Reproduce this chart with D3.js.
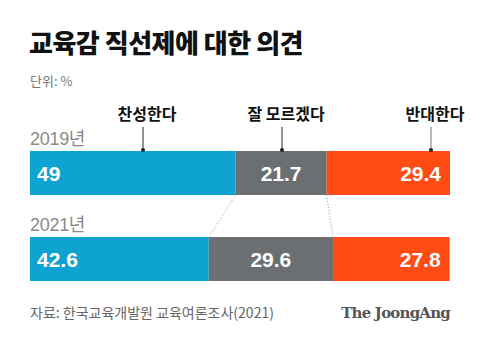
<!DOCTYPE html>
<html><head><meta charset="utf-8">
<script src="https://cdn.jsdelivr.net/npm/d3@7"></script>
<style>body{margin:0;background:#fff}svg{display:block}</style>
</head><body>
<script>
const years = ["2019년", "2021년"];
const categories = ["찬성한다", "잘 모르겠다", "반대한다"];
const values2019 = [49, 21.7, 29.4];
const values2021 = [42.6, 29.6, 27.8];
const colors = ["#0fa3d1", "#6b6f72", "#ff4b14"];
const title = "교육감 직선제에 대한 의견";
const unit = "단위: %";
const source = "자료: 한국교육개발원 교육여론조사(2021)";
const brand = "The JoongAng";

const W = 480, H = 340;
const font = "'Noto Sans CJK KR','Noto Sans',sans-serif";
const svg = d3.select("body").append("svg").attr("width", W).attr("height", H);
const series = [values2019, values2021];

const x = d3.scaleLinear().domain([0, 100.1]).range([30, 450]);
const y = d3.scalePoint().domain(years).range([151, 237]);
const barH = 44;

svg.append("text").attr("x", 29).attr("y", 53).text(title)
  .attr("font-family", font).attr("font-weight", 900).attr("font-size", 26).attr("fill", "#111").attr("letter-spacing", -0.5);
svg.append("text").attr("x", 30).attr("y", 86).text(unit)
  .attr("font-family", font).attr("font-size", 13).attr("fill", "#777");

const stacked = series.map((vals, i) => {
  let c = 0;
  return vals.map((v, j) => { const s = c; c += v; return {year: years[i], cat: j, v, x0: s, x1: c}; });
});

const g0 = stacked[0][1], g1 = stacked[1][1];
[[g0.x0, g1.x0], [g0.x1, g1.x1]].forEach(([a, b]) => {
  svg.append("line").attr("x1", x(a)).attr("y1", y(years[0]) + barH)
    .attr("x2", x(b)).attr("y2", y(years[1]))
    .attr("stroke", "#999").attr("stroke-width", 1).attr("stroke-dasharray", "1,2");
});

stacked.forEach(row => {
  row.forEach(d => {
    svg.append("rect").attr("x", x(d.x0)).attr("y", y(d.year))
      .attr("width", x(d.x1) - x(d.x0)).attr("height", barH).attr("fill", colors[d.cat]);
    let tx, anchor;
    if (d.cat === 0) { tx = x(d.x0) + 7; anchor = "start"; }
    else if (d.cat === 1) { tx = (x(d.x0) + x(d.x1)) / 2; anchor = "middle"; }
    else { tx = x(d.x1) - 9; anchor = "end"; }
    svg.append("text").attr("x", tx).attr("y", y(d.year) + 30).text(d.v)
      .attr("text-anchor", anchor).attr("font-family", "'Liberation Sans',Arial,sans-serif")
      .attr("font-weight", "bold").attr("font-size", 21).attr("fill", "#fff");
  });
  svg.append("text").attr("x", 30).attr("y", y(row[0].year) - 6).text(row[0].year)
    .attr("font-family", "'Liberation Sans','Noto Sans CJK KR',sans-serif").attr("font-size", 18).attr("fill", "#8a8a8a").attr("letter-spacing", -0.3);
});

const tickX = [143, 282, 431];
categories.forEach((c, i) => {
  const tx = tickX[i];
  svg.append("text").attr("x", tx + 4).attr("y", 120).text(c).attr("text-anchor", "middle")
    .attr("font-family", font).attr("font-weight", 700).attr("font-size", 16).attr("fill", "#111");
  svg.append("line").attr("x1", tx).attr("x2", tx).attr("y1", 127).attr("y2", 150)
    .attr("stroke", i === 2 ? "#777" : "#222").attr("stroke-width", 1);
  svg.append("circle").attr("cx", tx).attr("cy", 150).attr("r", 2).attr("fill", "#222");
});

svg.append("text").attr("x", 30).attr("y", 318).text(source)
  .attr("font-family", font).attr("font-size", 14).attr("fill", "#666");
svg.append("text").attr("x", 450).attr("y", 318).text(brand).attr("text-anchor", "end")
  .attr("font-family", "'DejaVu Serif','Liberation Serif',serif").attr("font-weight", "bold").attr("font-size", 15).attr("fill", "#555").attr("letter-spacing", -0.8);
</script>
</body></html>
